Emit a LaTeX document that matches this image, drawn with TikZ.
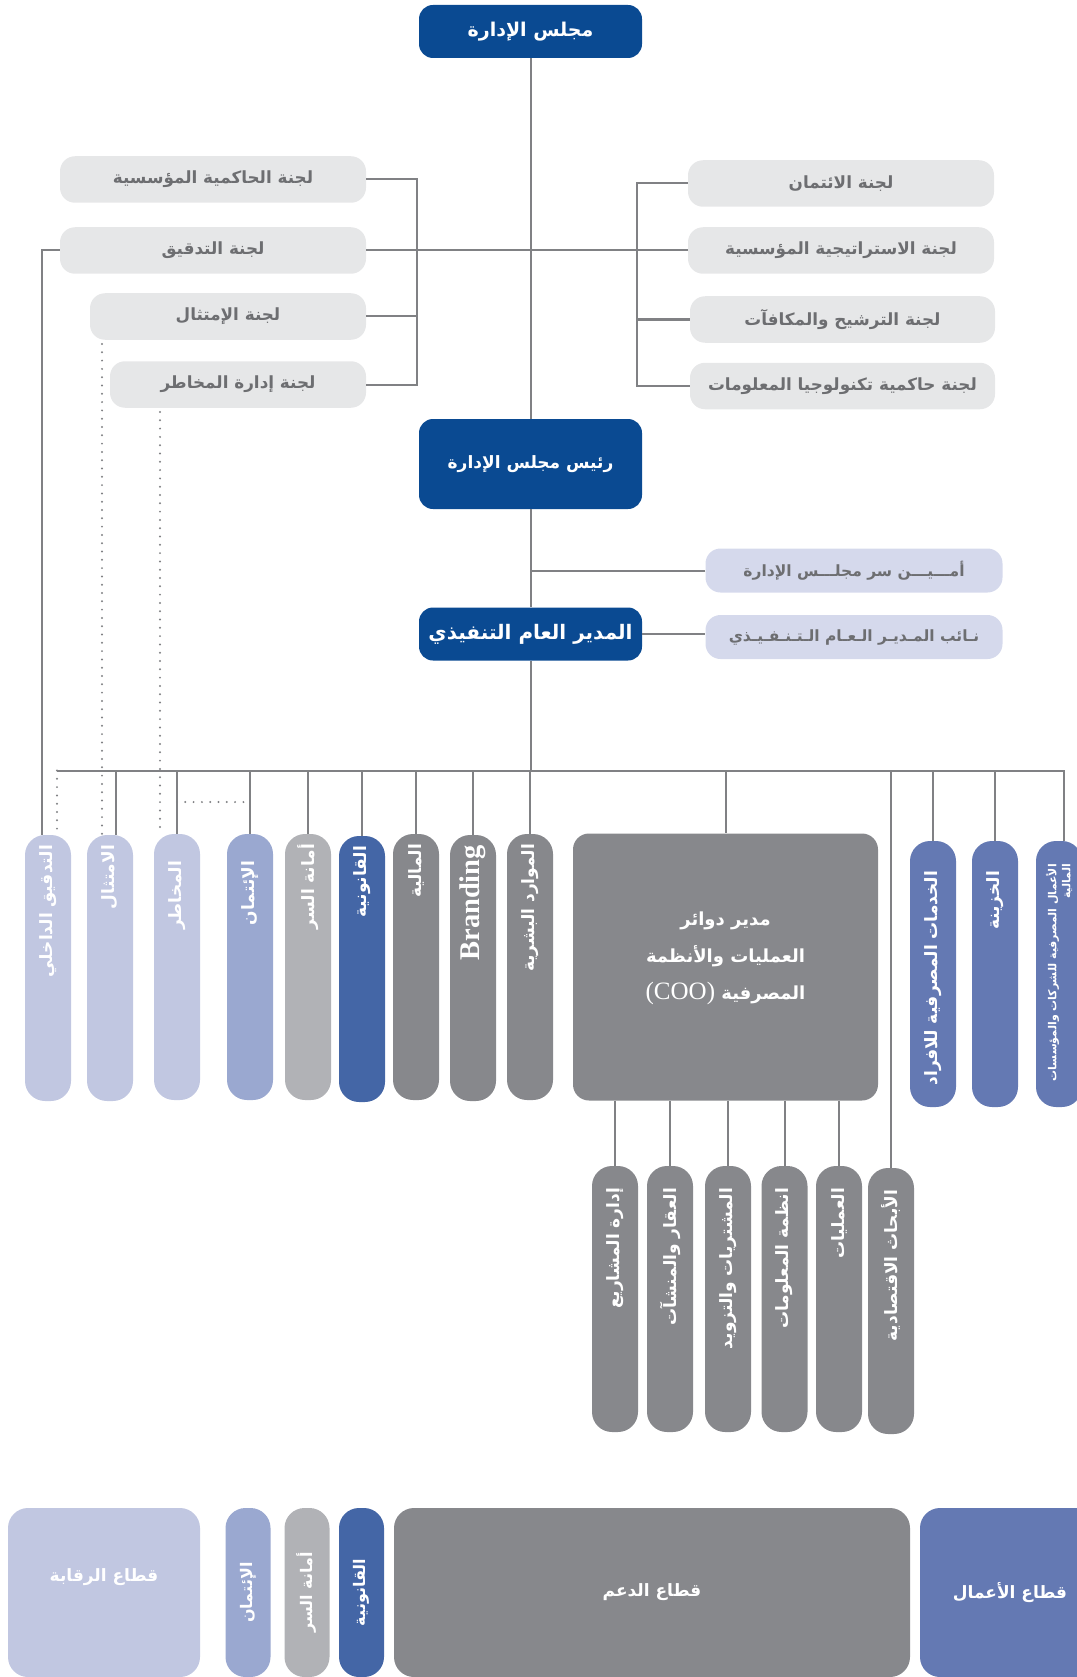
\documentclass[tikz,border=0pt]{standalone}
\usepackage{fontspec}
\setmainfont{Liberation Serif}
\newfontfamily\arabicfont[Script=Arabic]{DejaVu Sans}
\TeXXeTstate=1
\newcommand{\ArT}[1]{\beginR #1\endR}
\usetikzlibrary{calc}
\definecolor{boardblue}{HTML}{0A4A92}
\definecolor{commgray}{HTML}{E6E7E8}
\definecolor{commtext}{HTML}{6D6E71}
\definecolor{linegray}{HTML}{808184}
\definecolor{lavlight}{HTML}{D5D9EC}
\definecolor{ctrlblue}{HTML}{C1C7E1}
\definecolor{credblue}{HTML}{9AA8D0}
\definecolor{secgray}{HTML}{B1B2B6}
\definecolor{legalblue}{HTML}{4466A6}
\definecolor{supgray}{HTML}{87888C}
\definecolor{busblue}{HTML}{6479B3}
\begin{document}
\begin{tikzpicture}[x=1pt,y=-1pt,
  conn/.style={draw=linegray,line width=2pt},
  dotc/.style={draw=linegray,line width=2.2pt,line cap=round,dash pattern=on 0pt off 8.3pt},
  darkbox/.style={fill=boardblue,rounded corners=14pt,minimum width=223pt,inner sep=0pt,text=white},
  commbox/.style={fill=commgray,rounded corners=15pt,minimum height=46.5pt,inner sep=0pt,text=commtext,font=\arabicfont\bfseries\fontsize{16.8}{20}\selectfont},
  lavbox/.style={fill=lavlight,rounded corners=15pt,minimum width=297pt,minimum height=44pt,inner sep=0pt,text=commtext,font=\arabicfont\bfseries\fontsize{15.5}{18}\selectfont},
  vbox/.style={rotate=90,rounded corners=20pt,minimum height=46pt,inner xsep=10pt,inner ysep=0pt,text width=246pt,align=right,text=white,font=\arabicfont\bfseries\fontsize{17}{20}\selectfont},
  subpad/.style={inner xsep=22pt,text width=222pt},
  lgbox/.style={rounded corners=20pt,minimum height=169pt,inner sep=0pt,text=white,font=\arabicfont\bfseries\fontsize{17}{20}\selectfont},
  lgvbox/.style={rotate=90,rounded corners=20pt,minimum width=169pt,minimum height=45pt,inner sep=0pt,text=white,font=\arabicfont\bfseries\fontsize{16}{19}\selectfont}
]
\useasboundingbox (0,0) rectangle (1076,1677);

% top hierarchy
\node[darkbox,minimum height=53pt,font=\arabicfont\bfseries\fontsize{19}{22}\selectfont] (board) at (530.5,31.5) {\ArT{مجلس الإدارة}};
\node[darkbox,minimum height=90pt,font=\arabicfont\bfseries\fontsize{17}{20}\selectfont] (chair) at (530.5,464) {\ArT{رئيس مجلس الإدارة}};
\node[darkbox,minimum height=53pt,font=\arabicfont\bfseries\fontsize{20}{24}\selectfont] (ceo) at (530.5,634) {\ArT{المدير العام التنفيذي}};
\node[lavbox] (sec) at (854,570.5) {\ArT{أمـــيـــن سر مجلـــس الإدارة}};
\node[lavbox] (dep) at (854,637) {\ArT{نـائب المـديـر الـعـام الـتـنـفـيـذي}};

% committees left
\node[commbox,minimum width=306pt] (lc1) at (213,179.5) {\ArT{لجنة الحاكمية المؤسسية}};
\node[commbox,minimum width=306pt] (lc2) at (213,250.5) {\ArT{لجنة التدقيق}};
\node[commbox,minimum width=276pt] (lc3) at (228,316.5) {\ArT{لجنة الإمتثال}};
\node[commbox,minimum width=256pt] (lc4) at (238,384.5) {\ArT{لجنة إدارة المخاطر}};
% committees right
\node[commbox,minimum width=306pt] (rc1) at (841,183.5) {\ArT{لجنة الائتمان}};
\node[commbox,minimum width=306pt] (rc2) at (841,250.5) {\ArT{لجنة الاستراتيجية المؤسسية}};
\node[commbox,minimum width=305pt] (rc3) at (842.5,319.5) {\ArT{لجنة الترشيح والمكافآت}};
\node[commbox,minimum width=305pt] (rc4) at (842.5,386) {\ArT{لجنة حاكمية تكنولوجيا المعلومات}};

% main row of vertical boxes
\node[vbox,fill=ctrlblue] (v1) at (48,968) {\ArT{التدقيق الداخلي}};
\node[vbox,fill=ctrlblue] (v2) at (110,968) {\ArT{الامتثال}};
\node[vbox,fill=ctrlblue] (v3) at (177,967) {\ArT{\kern17pt المخاطر}};
\node[vbox,fill=credblue] (v4) at (250,967) {\ArT{\kern17pt الإئتمان}};
\node[vbox,fill=secgray] (v5) at (308,967) {\ArT{أمانة السر}};
\node[vbox,fill=legalblue] (v6) at (362,969) {\ArT{القانونية}};
\node[vbox,fill=supgray] (v7) at (416,967) {\ArT{المالية}};
\node[vbox,fill=supgray,font=\bfseries\fontsize{28.5}{30}\selectfont] (v8) at (473,968) {Branding};
\node[vbox,fill=supgray] (v9) at (530,967) {\ArT{الموارد البشرية}};
\node[fill=supgray,rounded corners=16pt,minimum width=305pt,minimum height=267pt,inner sep=0pt,
  label={[text=white,align=center,yshift=9pt,font=\arabicfont\bfseries\fontsize{18}{37}\selectfont]center:{\beginR مدير دوائر\endR\\\beginR العمليات والأنظمة\endR\\\beginR المصرفية \beginL{\rmfamily\mdseries\fontsize{25}{30}\selectfont(COO)}\endL\endR}}] (coo) at (725.5,967) {};
\node[vbox,fill=busblue] (r1) at (933,974) {\ArT{\kern20pt الخدمات المصرفية للافراد}};
\node[vbox,fill=busblue] (r2) at (995,974) {\ArT{\kern20pt الخزينة}};
\node[vbox,fill=busblue,font=\arabicfont\bfseries\fontsize{11}{14}\selectfont] (r3) at (1059,974) {\ArT{\kern13pt الأعمال المصرفية للشركات والمؤسسات}\\\ArT{\kern13pt المالية}};

% sub row
\node[vbox,subpad,fill=supgray] (s1) at (615,1299) {\ArT{إدارة المشاريع}};
\node[vbox,subpad,fill=supgray] (s2) at (670,1299) {\ArT{العقار والمنشآت}};
\node[vbox,subpad,fill=supgray] (s3) at (728,1299) {\ArT{المشتريات والتزويد}};
\node[vbox,subpad,fill=supgray] (s4) at (784.5,1299) {\ArT{انظمة المعلومات}};
\node[vbox,subpad,fill=supgray] (s5) at (839,1299) {\ArT{العمليات}};
\node[vbox,subpad,fill=supgray] (s6) at (891,1301) {\ArT{الأبحاث الاقتصادية}};

% legend
\node[lgbox,fill=ctrlblue,minimum width=192pt,
  label={[text=white,yshift=15pt,font=\arabicfont\bfseries\fontsize{17}{20}\selectfont]center:\beginR قطاع الرقابة\endR}] (lg1) at (104,1592.5) {};
\node[lgvbox,fill=credblue] (lg2) at (248,1592.5) {\ArT{الإئتمان}};
\node[lgvbox,fill=secgray] (lg3) at (307,1592.5) {\ArT{أمانة السر}};
\node[lgvbox,fill=legalblue] (lg4) at (361.5,1592.5) {\ArT{القانونية}};
\node[lgbox,fill=supgray,minimum width=516pt] (lg5) at (652,1592.5) {\ArT{قطاع الدعم}};
\node[lgbox,fill=busblue,minimum width=180pt] (lg6) at (1010,1592.5) {\ArT{قطاع الأعمال}};

% coordinates
\coordinate (lbar) at (417,179.5);
\coordinate (rbar) at (637,183.5);
\coordinate (busL) at (57,770.5);
\coordinate (busR) at (1065,770.5);
\coordinate (b2) at (116,770.5);
\coordinate (b13) at (1064,770.5);
\coordinate (cd) at (102,344);
\coordinate (rd) at (160,412);
\coordinate (dh) at (0,802);

% trunk
\draw[conn] (board.south) -- (chair.north);
\draw[conn] (chair.south) -- (ceo.north);
\draw[conn] (ceo.south) -- (ceo.south |- busL);
\draw[conn] (sec.west) -- (sec.west -| chair.south);
\draw[conn] (ceo.east) -- (ceo.east -| dep.west);

% committees connectors
\draw[conn] (lc1.east) -- (lbar) |- (lc4.east);
\draw[conn] (lc3.east) -- (lc3.east -| lbar);
\draw[conn] (rc1.west) -- (rbar) |- (rc4.west);
\draw[conn] (rc3.west) -- (rc3.west -| rbar);
\draw[conn] (lc2.east) -- (rc2.west);

% bus
\draw[conn] (busL) -- (busR);

% main row connectors
\draw[conn] (lc2.west) -| ([xshift=-6pt]v1.east);
\draw[dotc] (busL) -- (busL |- v1.east);
\draw[dotc] (cd) -- (cd |- v2.east);
\draw[conn] (b2) -- (b2 |- v2.east);
\draw[dotc] (rd) -- (rd |- v3.east);
\draw[conn] (v3.east |- busL) -- (v3.east);
\draw[dotc] (v3.east |- dh) -- (v4.east |- dh);
\foreach \n in {v4,v5,v6,v7,v8,v9,r1,r2,s6}{
  \draw[conn] (\n.east |- busL) -- (\n.east);
}
\draw[conn] (coo.north |- busL) -- (coo.north);
\draw[conn] (b13) -- (b13 |- r3.east);
\foreach \n in {s1,s2,s3,s4,s5}{
  \draw[conn] (\n.east |- coo.south) -- (\n.east);
}
\end{tikzpicture}
\end{document}
